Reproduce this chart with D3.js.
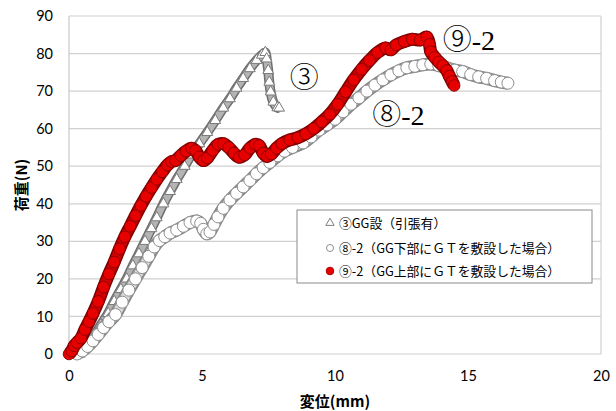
<!DOCTYPE html>
<html>
<head>
<meta charset="utf-8">
<script src="https://cdn.jsdelivr.net/npm/d3@7"></script>
<style>
  body { margin: 0; background: #fff; }
  svg { display: block; }
</style>
</head>
<body>
<div id="chart"></div>
<script>
// Series values: [displacement mm, load N]
const seriesGG = [
  [0.4, 0], [0.6, 1.5], [0.8, 3.2], [1.0, 5.5], [1.2, 7.8], [1.47, 10.8], [1.7, 14], [1.95, 17.2],
  [2.17, 20], [2.4, 23.5], [2.63, 26.7], [2.86, 30], [3.1, 33.4], [3.3, 36.3], [3.55, 40], [3.8, 43.3],
  [4.05, 46.5], [4.35, 50], [4.6, 53], [4.9, 56], [5.2, 59], [5.5, 62.2], [5.8, 65.5], [6.05, 68],
  [6.3, 70.8], [6.55, 73.4], [6.8, 76], [7.05, 78.2], [7.25, 79.6], [7.38, 80.3], [7.43, 78.6],
  [7.49, 75.5], [7.53, 72.4], [7.58, 69.8], [7.68, 67.1], [7.83, 65.6], [7.9, 65.5]
];
const seriesGTBelow = [
  [0.3, 0], [0.5, 0.8], [0.7, 2], [0.9, 3.5], [1.1, 5.2], [1.3, 7], [1.5, 8.6], [1.75, 10.5],
  [2.0, 13.8], [2.25, 17], [2.5, 20], [2.75, 23], [3.0, 26], [3.2, 28.5], [3.4, 30.2], [3.6, 31.2],
  [3.8, 32.2], [4.05, 33], [4.3, 34], [4.55, 35], [4.8, 35.4], [4.95, 34.8], [5.05, 33.2], [5.18, 32],
  [5.3, 32.5], [5.45, 34.5], [5.6, 36.5], [5.8, 38.8], [6.05, 41], [6.3, 42.8], [6.55, 44.5], [6.8, 46.2],
  [7.05, 48], [7.3, 49.6], [7.55, 51], [7.85, 52.8], [8.1, 54], [8.4, 55], [8.8, 56.2], [9.1, 57.8],
  [9.4, 59.6], [9.7, 61], [10.0, 62.5], [10.3, 64.5], [10.6, 66.5], [10.9, 68.2], [11.2, 70], [11.5, 71.6],
  [11.8, 73], [12.1, 74.3], [12.4, 75.4], [12.7, 76.2], [13.0, 76.6], [13.3, 77], [13.6, 77.2], [13.9, 76.8],
  [14.2, 76.2], [14.5, 75.6], [14.8, 75.2], [15.1, 74.4], [15.4, 73.8], [15.7, 73.4], [16.0, 72.8],
  [16.25, 72.4], [16.5, 72.1]
];
const seriesGTAbove = [
  [0, 0], [0.1, 0.8], [0.2, 2.2], [0.3, 3.0], [0.45, 4.2], [0.6, 6.5], [0.75, 8.6], [0.9, 10.8],
  [1.1, 14], [1.3, 17.8], [1.5, 21.3], [1.7, 24.5], [1.9, 28], [2.1, 31.2], [2.3, 34], [2.5, 36.8],
  [2.7, 39.5], [2.9, 42], [3.1, 44.3], [3.3, 46.5], [3.5, 48.5], [3.7, 50.3], [3.85, 51.2], [4.0, 51.5],
  [4.2, 52.8], [4.4, 54], [4.6, 54.8], [4.75, 54.2], [4.9, 52.5], [5.05, 51.5], [5.2, 52.2], [5.4, 54.2],
  [5.6, 55.8], [5.8, 56], [6.0, 55], [6.2, 53.5], [6.4, 52.4], [6.6, 53], [6.8, 54.8], [7.0, 55.8],
  [7.15, 55.5], [7.3, 53.5], [7.45, 52.6], [7.6, 53.2], [7.8, 54.8], [8.0, 56], [8.3, 57], [8.6, 57.6],
  [8.9, 58.6], [9.2, 60], [9.5, 61.8], [9.8, 63.8], [10.1, 66.5], [10.4, 69.8], [10.7, 73], [11.0, 75.8],
  [11.3, 78.2], [11.6, 80.3], [11.9, 81.5], [12.1, 81], [12.3, 82.3], [12.6, 83.2], [12.9, 83.8],
  [13.2, 83.6], [13.45, 84.4], [13.55, 82.5], [13.6, 80.5], [13.75, 79], [13.9, 77.8], [14.05, 76.8],
  [14.2, 75.5], [14.3, 74], [14.4, 72.6], [14.48, 71.5]
];

const xTicks = [0, 5, 10, 15, 20];
const yTicks = [0, 10, 20, 30, 40, 50, 60, 70, 80, 90];
const legendLabels = ["③GG設（引張有）", "⑧-2（GG下部にＧＴを敷設した場合）", "⑨-2（GG上部にＧＴを敷設した場合）"];
const curveLabels = [
  { mark: "③", suffix: "", x: 8.3, y: 73.5 },
  { mark: "⑨", suffix: "-2", x: 14.05, y: 83.5 },
  { mark: "⑧", suffix: "-2", x: 11.4, y: 63.5 }
];

const W = 616, H = 411;
const margin = { top: 16, right: 15, bottom: 57, left: 69 };
const width = W - margin.left - margin.right;
const height = H - margin.top - margin.bottom;

const svg = d3.select("#chart").append("svg")
  .attr("width", W)
  .attr("height", H);

const g = svg.append("g")
  .attr("transform", `translate(${margin.left},${margin.top})`);

const x = d3.scaleLinear().domain([0, 20]).range([0, width]);
const y = d3.scaleLinear().domain([0, 90]).range([height, 0]);

// gridlines
g.append("g")
  .selectAll("line")
  .data(yTicks)
  .join("line")
  .attr("x1", 0).attr("x2", width)
  .attr("y1", d => y(d)).attr("y2", d => y(d))
  .attr("stroke", "#d0d0d0")
  .attr("stroke-width", 1.2);

// left axis and right edge
g.append("line").attr("x1", 0).attr("x2", 0).attr("y1", 0).attr("y2", height)
  .attr("stroke", "#c8c8c8").attr("stroke-width", 1.2);
g.append("line").attr("x1", width).attr("x2", width).attr("y1", 0).attr("y2", height)
  .attr("stroke", "#d0d0d0").attr("stroke-width", 1.2);

// tick labels
const yAxis = g.append("g")
  .call(d3.axisLeft(y).tickValues(yTicks).tickSize(0).tickPadding(16));
yAxis.select(".domain").remove();
yAxis.selectAll("text").attr("font-family", "Lato, 'Liberation Sans', sans-serif")
  .attr("font-size", 14.5).attr("fill", "#000");

const xAxis = g.append("g")
  .attr("transform", `translate(0,${height})`)
  .call(d3.axisBottom(x).tickValues(xTicks).tickSize(0).tickPadding(17));
xAxis.select(".domain").remove();
xAxis.selectAll("text").attr("font-family", "Lato, 'Liberation Sans', sans-serif")
  .attr("font-size", 14.5).attr("fill", "#000");

// axis titles
svg.append("text")
  .attr("x", margin.left + width / 2)
  .attr("y", 407)
  .attr("text-anchor", "middle")
  .attr("font-family", "'Noto Sans CJK JP', sans-serif")
  .attr("font-weight", "bold")
  .attr("font-size", 15)
  .text("変位(mm)");

svg.append("text")
  .attr("transform", "translate(27,185) rotate(-90)")
  .attr("text-anchor", "middle")
  .attr("font-family", "'Noto Sans CJK JP', sans-serif")
  .attr("font-weight", "bold")
  .attr("font-size", 15)
  .text("荷重(N)");

const line = d3.line()
  .x(d => x(d[0]))
  .y(d => y(d[1]))
  .curve(d3.curveCatmullRom);

// ③ triangles
g.append("path").datum(seriesGG)
  .attr("d", line).attr("fill", "none")
  .attr("stroke", "#6e6e6e").attr("stroke-width", 10).attr("stroke-linejoin", "round");
g.append("path").datum(seriesGG)
  .attr("d", line).attr("fill", "none")
  .attr("stroke", "#b4b4b4").attr("stroke-width", 7).attr("stroke-linejoin", "round");
const tri = d3.symbol().type(d3.symbolTriangle).size(50);
g.append("g").selectAll("path")
  .data(seriesGG)
  .join("path")
  .attr("transform", d => `translate(${x(d[0])},${y(d[1])})`)
  .attr("d", tri)
  .attr("fill", "#fff")
  .attr("stroke", "#7a7a7a")
  .attr("stroke-width", 1);

// ⑧-2 open circles
g.append("path").datum(seriesGTBelow)
  .attr("d", line).attr("fill", "none")
  .attr("stroke", "#8a8a8a").attr("stroke-width", 13).attr("stroke-linejoin", "round");
g.append("path").datum(seriesGTBelow)
  .attr("d", line).attr("fill", "none")
  .attr("stroke", "#dcdcdc").attr("stroke-width", 9).attr("stroke-linejoin", "round");
g.append("g").selectAll("circle")
  .data(seriesGTBelow)
  .join("circle")
  .attr("cx", d => x(d[0]))
  .attr("cy", d => y(d[1]))
  .attr("r", 6)
  .attr("fill", "#fff")
  .attr("stroke", "#8f8f8f")
  .attr("stroke-width", 1);

// ⑨-2 red circles
g.append("path").datum(seriesGTAbove)
  .attr("d", line).attr("fill", "none")
  .attr("stroke", "#7a0000").attr("stroke-width", 13).attr("stroke-linejoin", "round");
g.append("path").datum(seriesGTAbove)
  .attr("d", line).attr("fill", "none")
  .attr("stroke", "#cf0000").attr("stroke-width", 10).attr("stroke-linejoin", "round");
g.append("g").selectAll("circle")
  .data(seriesGTAbove)
  .join("circle")
  .attr("cx", d => x(d[0]))
  .attr("cy", d => y(d[1]))
  .attr("r", 5.8)
  .attr("fill", "#e60000")
  .attr("stroke", "#8b0000")
  .attr("stroke-width", 0.9);

// curve labels: circled mark followed by the serif suffix
const lab = g.append("g").selectAll("text")
  .data(curveLabels)
  .join("text")
  .attr("x", d => x(d.x))
  .attr("y", d => y(d.y))
  .attr("dy", "0.35em")
  .attr("font-family", "'Liberation Serif', serif")
  .attr("font-size", 28)
  .attr("fill", "#000");
lab.append("tspan")
  .attr("font-family", "'Noto Sans CJK JP', sans-serif")
  .attr("font-weight", 300)
  .attr("font-size", 29)
  .text(d => d.mark);
lab.append("tspan").text(d => d.suffix);

// legend
const legend = svg.append("g").attr("transform", "translate(297,210)");
legend.append("rect")
  .attr("width", 295).attr("height", 73)
  .attr("fill", "#fff")
  .attr("stroke", "#8a8a8a")
  .attr("stroke-width", 1);

const rowY = [13, 38, 61];
legend.append("path")
  .attr("transform", `translate(33,${rowY[0]})`)
  .attr("d", d3.symbol().type(d3.symbolTriangle).size(30))
  .attr("fill", "#fff").attr("stroke", "#808080");
legend.append("circle")
  .attr("cx", 33).attr("cy", rowY[1]).attr("r", 3.5)
  .attr("fill", "#fff").attr("stroke", "#8f8f8f");
legend.append("circle")
  .attr("cx", 33).attr("cy", rowY[2]).attr("r", 3.8)
  .attr("fill", "#e60000").attr("stroke", "#b00000");

legend.selectAll("text.lab")
  .data(legendLabels)
  .join("text")
  .attr("class", "lab")
  .attr("x", 42)
  .attr("y", (d, i) => rowY[i])
  .attr("dy", "0.36em")
  .attr("font-family", "'Noto Sans CJK JP', sans-serif")
  .attr("font-size", 12.8)
  .attr("fill", "#000")
  .text(d => d);
</script>
</body>
</html>
